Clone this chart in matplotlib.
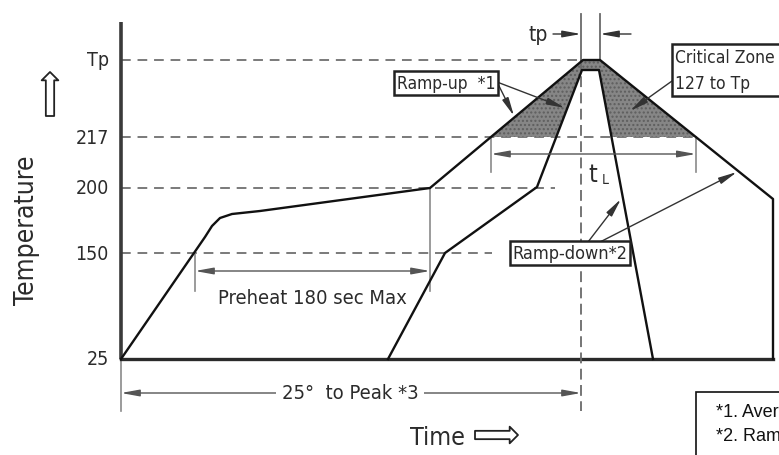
import numpy as np
import matplotlib
matplotlib.use("Agg")
import matplotlib.pyplot as plt
from matplotlib import font_manager as fm
from matplotlib.patches import Rectangle, Polygon

# 온도 레벨 (도식용 위치)
levels = ["25", "150", "200", "217", "Tp"]
level_y = [0, 106, 171, 222, 299]
guide_end = [0, 371, 434, 575, 460]   # 점선 끝 (25는 실선 베이스라인)

# 바깥 프로파일 (최대)
outer_t = [0, 84, 91, 99, 111, 139, 309, 462, 479, 652, 652]
outer_y = [0, 122, 133, 141, 145, 148, 171, 299, 299, 160, 0]

# 안쪽 프로파일 (최소)
inner_t = [267, 324, 416, 461, 478, 532]
inner_y = [0, 106, 172, 289, 289, 0]

t_peak = 460
t_peak_end = 479

TXT = "#2b2b2b"
DIM = "#8a8a8a"

# 좁은 글꼴 찾기 (Narrow / Condensed)
narrow = None
for f in fm.fontManager.ttflist:
    n = f.fname.lower()
    if ("narrow" in n or "condensed" in n) and "bold" not in n and "italic" not in n \
            and "oblique" not in n and "mono" not in n and "serif" not in n.replace("sans", ""):
        narrow = f.fname
        break


def fp(size):
    if narrow:
        return fm.FontProperties(fname=narrow, size=size)
    return fm.FontProperties(family="DejaVu Sans", size=size)


fig = plt.figure(figsize=(7.79, 4.56), dpi=100)
ax = fig.add_axes([0, 0, 1, 1])
ax.set_xlim(-121, 658)
ax.set_ylim(-96, 360)
ax.axis("off")


def cross(ts, ys, i, y0):
    # 구간 i~i+1 에서 y0 를 지나는 t
    if ys[i] < ys[i + 1]:
        return np.interp(y0, [ys[i], ys[i + 1]], [ts[i], ts[i + 1]])
    return np.interp(y0, [ys[i + 1], ys[i]], [ts[i + 1], ts[i]])


y217 = level_y[3]
lo = cross(outer_t, outer_y, 6, y217)
ro = cross(outer_t, outer_y, 8, y217)
li = cross(inner_t, inner_y, 2, y217)
ri = cross(inner_t, inner_y, 4, y217)

# 임계 구간 음영
shade = Polygon([(lo, y217), (outer_t[7], outer_y[7]), (outer_t[8], outer_y[8]),
                 (ro, y217), (ri, y217), (inner_t[4], inner_y[4]),
                 (inner_t[3], inner_y[3]), (li, y217)],
                closed=True, facecolor="#868686", edgecolor="#5e5e5e",
                hatch="....", lw=0, zorder=1)
ax.add_patch(shade)

# 레벨 점선
for lab, y, e in zip(levels, level_y, guide_end):
    if e > 0:
        ax.plot([0, e], [y, y], color="#7a7a7a", lw=1.4, ls=(0, (5, 3.5)), zorder=0)
    ax.text(-12, y, lab, ha="right", va="center", fontproperties=fp(14), color=TXT)

# 축
ax.plot([0, 0], [0, 337], color="#3a3a3a", lw=2.6, solid_capstyle="butt")
ax.plot([0, 0], [0, -52], color=DIM, lw=1.2)
ax.plot([0, 652], [0, 0], color="#2a2a2a", lw=2.4)

# 프로파일
ax.plot(outer_t, outer_y, color="#111111", lw=1.7, zorder=3)
ax.plot(inner_t, inner_y, color="#111111", lw=1.7, zorder=3)

# 피크 수직선
ax.plot([t_peak, t_peak], [299, -52], color="#6a6a6a", lw=1.3, ls=(0, (6, 3)), zorder=2)
for t in [t_peak, t_peak_end]:
    ax.plot([t, t], [299, 345], color="#6a6a6a", lw=1.3)

arrow_kw = dict(arrowstyle="-|>,head_length=1.1,head_width=0.2", color="#333333", lw=1.0,
                shrinkA=0, shrinkB=0)
dim_kw = dict(arrowstyle="<|-|>,head_length=1.1,head_width=0.2", color="#555555", lw=1.0,
              shrinkA=0, shrinkB=0)
hollow_kw = dict(arrowstyle="simple,head_length=0.6,head_width=1.2,tail_width=0.6",
                 fc="white", ec="#222222", lw=1.3, shrinkA=0, shrinkB=0)

# tp
ax.text(417, 325, "tp", ha="center", va="center", fontproperties=fp(15), color=TXT)
ax.annotate("", xy=(t_peak, 325), xytext=(432, 325), arrowprops=arrow_kw)
ax.annotate("", xy=(t_peak_end, 325), xytext=(510, 325), arrowprops=arrow_kw)

# Preheat 치수
ax.plot([74, 74], [106, 68], color=DIM, lw=1.2)
ax.plot([309, 309], [171, 68], color=DIM, lw=1.2)
ax.annotate("", xy=(74, 88), xytext=(309, 88), arrowprops=dim_kw)
ax.text(191, 62, "Preheat 180 sec Max", ha="center", va="center", fontproperties=fp(14.5),
        color=TXT)

# t_L 치수
ax.plot([lo, lo], [y217, 187], color=DIM, lw=1.2)
ax.plot([ro, ro], [y217, 187], color=DIM, lw=1.2)
ax.annotate("", xy=(lo, 205), xytext=(ro, 205), arrowprops=dim_kw)
ax.text(472, 185, "t", ha="center", va="center", fontproperties=fp(18), color=TXT)
ax.text(484, 180, "L", ha="center", va="center", fontproperties=fp(10), color=TXT)

# 25° to Peak 치수
ax.annotate("", xy=(0, -34), xytext=(t_peak, -34), arrowprops=dim_kw)
ax.text(229, -34, "25°  to Peak *3", ha="center", va="center", fontproperties=fp(14.5),
        color=TXT, bbox=dict(facecolor="white", edgecolor="none", pad=4))

# 축 제목
ax.text(-94, 130, "Temperature", rotation=90, ha="center", va="center",
        fontproperties=fp(19), color=TXT)
ax.annotate("", xy=(-71, 287), xytext=(-71, 243), arrowprops=hollow_kw)
ax.text(317, -78, "Time", ha="center", va="center", fontproperties=fp(18), color=TXT)
ax.annotate("", xy=(397, -76), xytext=(354, -76), arrowprops=hollow_kw)

# 라벨 박스
box_kw = dict(boxstyle="square,pad=0.15", facecolor="white", edgecolor="#222222", lw=1.8)
ax.text(325, 276, "Ramp-up  *1", ha="center", va="center", fontproperties=fp(12.5),
        color=TXT, bbox=box_kw, zorder=5)
ax.annotate("", xy=(393, 243), xytext=(376, 277), arrowprops=arrow_kw)
ax.annotate("", xy=(444, 251), xytext=(376, 277), arrowprops=arrow_kw)

ax.add_patch(Rectangle((551, 263), 130, 52, facecolor="white", edgecolor="#222222",
                       lw=1.8, zorder=5, clip_on=False))
ax.text(554, 302, "Critical Zone", ha="left", va="center", fontproperties=fp(12.5),
        color=TXT, zorder=6)
ax.text(554, 276, "127 to Tp", ha="left", va="center", fontproperties=fp(12.5),
        color=TXT, zorder=6)
ax.annotate("", xy=(509, 248), xytext=(551, 278), arrowprops=arrow_kw)

ax.text(449, 106, "Ramp-down*2", ha="center", va="center", fontproperties=fp(13),
        color=TXT, bbox=box_kw, zorder=5)
ax.annotate("", xy=(500, 160), xytext=(467, 117), arrowprops=arrow_kw)
ax.annotate("", xy=(616, 187), xytext=(479, 117), arrowprops=arrow_kw)

# 각주 박스
ax.add_patch(Rectangle((575, -110), 120, 77, facecolor="white", edgecolor="#111111",
                       lw=1.2, zorder=5, clip_on=False))
ax.text(595, -53, "*1. Average ramp-up rate", ha="left", va="center", fontsize=13,
        family=["Liberation Sans", "DejaVu Sans"], color="#111111", zorder=6)
ax.text(595, -77, "*2. Ramp-down rate", ha="left", va="center", fontsize=13,
        family=["Liberation Sans", "DejaVu Sans"], color="#111111", zorder=6)

fig.savefig("out.png", dpi=100)
